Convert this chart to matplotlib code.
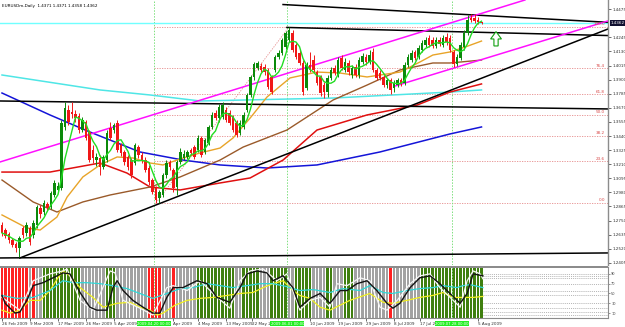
import numpy as np
import pandas as pd
import matplotlib
matplotlib.use("Agg")
import matplotlib.pyplot as plt
from matplotlib.patches import Polygon, Rectangle

# EURUSD daily bars, 26 Feb 2009 .. 6 Aug 2009 (bar index = position on time axis)
opens = [1.2714, 1.2673, 1.2641, 1.2592, 1.2559, 1.2526, 1.2690, 1.2649, 1.2690, 1.2632,
         1.2714, 1.2853, 1.2820, 1.2886, 1.2861, 1.2959, 1.3000, 1.3016, 1.3514, 1.3652,
         1.3636, 1.3620, 1.3603, 1.3489, 1.3554, 1.3473, 1.3326, 1.3244, 1.3261, 1.3187,
         1.3244, 1.3506, 1.3489, 1.3546, 1.3367, 1.3310, 1.3269, 1.3244, 1.3220, 1.3350,
         1.3285, 1.3244, 1.3179, 1.3081, 1.3016, 1.2934, 1.2959, 1.3122, 1.3228, 1.3163,
         1.3024, 1.3228, 1.3261, 1.3269, 1.3326, 1.3350, 1.3326, 1.3424, 1.3310, 1.3383,
         1.3514, 1.3628, 1.3587, 1.3595, 1.3652, 1.3628, 1.3595, 1.3546, 1.3465, 1.3514,
         1.3652, 1.3775, 1.3922, 1.3995, 1.4011, 1.4003, 1.3979, 1.3922, 1.3979, 1.4085,
         1.4118, 1.4166, 1.4224, 1.4281, 1.4183, 1.4118, 1.4036, 1.3832, 1.4020, 1.4060,
         1.3962, 1.3922, 1.3856, 1.3799, 1.3914, 1.3995, 1.3938, 1.4077, 1.3979, 1.4036,
         1.3938, 1.4003, 1.3938, 1.4044, 1.4085, 1.4044, 1.4126, 1.3979, 1.3954, 1.3922,
         1.3856, 1.3897, 1.3832, 1.3856, 1.3897, 1.3873, 1.4020, 1.4060, 1.4126, 1.4085,
         1.4142, 1.4183, 1.4240, 1.4224, 1.4175, 1.4224, 1.4183, 1.4248, 1.4240, 1.4126,
         1.4028, 1.4077, 1.4166, 1.4281, 1.4403, 1.4403, 1.4387, 1.4371]
highs = [1.2738, 1.2690, 1.2657, 1.2608, 1.2575, 1.2624, 1.2706, 1.2738, 1.2706, 1.2755,
         1.2877, 1.2877, 1.2918, 1.2902, 1.2991, 1.3081, 1.3065, 1.3571, 1.3718, 1.3693,
         1.3718, 1.3652, 1.3628, 1.3595, 1.3571, 1.3489, 1.3367, 1.3302, 1.3285, 1.3285,
         1.3489, 1.3554, 1.3546, 1.3571, 1.3383, 1.3326, 1.3285, 1.3261, 1.3383, 1.3367,
         1.3310, 1.3269, 1.3204, 1.3098, 1.3032, 1.3000, 1.3138, 1.3244, 1.3244, 1.3179,
         1.3244, 1.3342, 1.3326, 1.3326, 1.3342, 1.3367, 1.3448, 1.3440, 1.3424, 1.3530,
         1.3636, 1.3652, 1.3701, 1.3718, 1.3677, 1.3652, 1.3612, 1.3571, 1.3571, 1.3636,
         1.3791, 1.3938, 1.4044, 1.4052, 1.4036, 1.4028, 1.3995, 1.3938, 1.4101, 1.4142,
         1.4240, 1.4297, 1.4330, 1.4305, 1.4199, 1.4142, 1.4060, 1.4044, 1.4126, 1.4101,
         1.3979, 1.3938, 1.3881, 1.3938, 1.4003, 1.4020, 1.4085, 1.4101, 1.4077, 1.4060,
         1.4020, 1.4028, 1.4085, 1.4118, 1.4109, 1.4142, 1.4158, 1.3995, 1.3979, 1.3938,
         1.3914, 1.3914, 1.3897, 1.3914, 1.3914, 1.4044, 1.4109, 1.4142, 1.4142, 1.4183,
         1.4224, 1.4248, 1.4264, 1.4248, 1.4248, 1.4248, 1.4264, 1.4281, 1.4264, 1.4142,
         1.4109, 1.4207, 1.4305, 1.4428, 1.4436, 1.4436, 1.4411, 1.4371]
lows = [1.2624, 1.2608, 1.2567, 1.2534, 1.2494, 1.2453, 1.2608, 1.2624, 1.2551, 1.2608,
        1.2690, 1.2771, 1.2796, 1.2828, 1.2845, 1.2942, 1.2983, 1.3000, 1.3489, 1.3530,
        1.3587, 1.3554, 1.3465, 1.3473, 1.3408, 1.3228, 1.3220, 1.3195, 1.3122, 1.3171,
        1.3228, 1.3408, 1.3465, 1.3310, 1.3277, 1.3204, 1.3163, 1.3098, 1.3204, 1.3261,
        1.3220, 1.3146, 1.3040, 1.2967, 1.2894, 1.2894, 1.2942, 1.3098, 1.3163, 1.2983,
        1.2959, 1.3212, 1.3244, 1.3253, 1.3285, 1.3253, 1.3310, 1.3269, 1.3293, 1.3367,
        1.3497, 1.3571, 1.3554, 1.3579, 1.3554, 1.3530, 1.3473, 1.3432, 1.3448, 1.3497,
        1.3636, 1.3758, 1.3897, 1.3979, 1.3962, 1.3938, 1.3824, 1.3783, 1.3962, 1.4069,
        1.4101, 1.4150, 1.4207, 1.4126, 1.4069, 1.4020, 1.3775, 1.3816, 1.3962, 1.3962,
        1.3856, 1.3767, 1.3750, 1.3758, 1.3897, 1.3938, 1.3922, 1.3979, 1.3962, 1.3938,
        1.3914, 1.3922, 1.3914, 1.4028, 1.4020, 1.4028, 1.3962, 1.3897, 1.3897, 1.3840,
        1.3832, 1.3783, 1.3799, 1.3840, 1.3848, 1.3856, 1.4003, 1.4044, 1.4060, 1.4069,
        1.4126, 1.4166, 1.4166, 1.4158, 1.4158, 1.4175, 1.4166, 1.4183, 1.4126, 1.4003,
        1.4011, 1.4060, 1.4142, 1.4264, 1.4370, 1.4362, 1.4354, 1.4358]
closes = [1.2649, 1.2624, 1.2592, 1.2551, 1.2526, 1.2608, 1.2632, 1.2714, 1.2575, 1.2730,
          1.2861, 1.2804, 1.2894, 1.2853, 1.2975, 1.3057, 1.3032, 1.3546, 1.3669, 1.3554,
          1.3620, 1.3587, 1.3489, 1.3571, 1.3424, 1.3244, 1.3261, 1.3269, 1.3187, 1.3269,
          1.3465, 1.3424, 1.3530, 1.3326, 1.3302, 1.3228, 1.3187, 1.3122, 1.3367, 1.3285,
          1.3244, 1.3163, 1.3065, 1.2983, 1.2918, 1.2983, 1.3122, 1.3220, 1.3187, 1.3016,
          1.3228, 1.3310, 1.3293, 1.3310, 1.3302, 1.3269, 1.3424, 1.3285, 1.3408, 1.3514,
          1.3612, 1.3587, 1.3677, 1.3693, 1.3571, 1.3546, 1.3489, 1.3448, 1.3546, 1.3612,
          1.3775, 1.3922, 1.4028, 1.4036, 1.3979, 1.3962, 1.3840, 1.3799, 1.4085, 1.4118,
          1.4224, 1.4281, 1.4305, 1.4142, 1.4085, 1.4036, 1.3799, 1.4020, 1.3979, 1.3979,
          1.3873, 1.3791, 1.3799, 1.3914, 1.3979, 1.3954, 1.4060, 1.3995, 1.4044, 1.3962,
          1.3995, 1.3938, 1.4060, 1.4093, 1.4044, 1.4101, 1.3979, 1.3914, 1.3914, 1.3856,
          1.3897, 1.3816, 1.3873, 1.3897, 1.3865, 1.4020, 1.4085, 1.4118, 1.4077, 1.4158,
          1.4199, 1.4224, 1.4183, 1.4175, 1.4224, 1.4191, 1.4240, 1.4207, 1.4142, 1.4028,
          1.4085, 1.4183, 1.4281, 1.4387, 1.4387, 1.4379, 1.4370, 1.4362]

# slower moving averages (bar, price)
orange_x = [0, 7.1, 10.9, 15.7, 18.6, 23.1, 28, 32.9, 37.4, 42.3, 46, 50.9, 56.6, 62.3,
            66, 70.9, 75.7, 82.3, 90, 96.6, 104.3, 113.7, 119.4, 123.1, 128, 132.3, 137]
orange_y = [1.2796, 1.2690, 1.2673, 1.2779, 1.2942, 1.3106, 1.3204, 1.3269, 1.3261, 1.3220,
            1.3204, 1.3253, 1.3302, 1.3342, 1.3424, 1.3587, 1.3758, 1.3914, 1.3962, 1.3954,
            1.3922, 1.3962, 1.4044, 1.4101, 1.4126, 1.4166, 1.4215]
brown_x = [0, 8.9, 15.7, 23.1, 30.9, 42.3, 50.9, 62.3, 68.9, 81.4, 94.6, 104.3, 113.7, 123.1, 128, 137]
brown_y = [1.3081, 1.2902, 1.2820, 1.2902, 1.2959, 1.3024, 1.3106, 1.3244, 1.3350, 1.3489,
           1.3734, 1.3856, 1.3979, 1.4036, 1.4036, 1.4060]
red_x = [0, 13.7, 28, 35.7, 42.3, 50.9, 62.3, 70.9, 80.3, 90, 104.3, 118.6, 128, 137]
red_y = [1.3146, 1.3146, 1.3220, 1.3138, 1.3024, 1.3000, 1.3057, 1.3098, 1.3244, 1.3489,
         1.3612, 1.3693, 1.3799, 1.3865]
blue_x = [0, 13.7, 25.1, 39.4, 51.7, 62.3, 75.7, 90, 108, 128, 137]
blue_y = [1.3791, 1.3612, 1.3473, 1.3310, 1.3244, 1.3204, 1.3179, 1.3204, 1.3310, 1.3457, 1.3514]
cyan_x = [0, 28, 42.3, 56.6, 94.6, 128, 137]
cyan_y = [1.3938, 1.3816, 1.3775, 1.3726, 1.3750, 1.3799, 1.3816]

# trend lines (bar, price) pairs
black_lines = [((80.3, 1.4513), (173.1, 1.4368)),
               ((81.4, 1.4326), (173.1, 1.4260)),
               ((5.1, 1.2445), (173.1, 1.4313)),
               ((-0.6, 1.3726), (173.1, 1.3661)),
               ((-0.6, 1.2445), (173.1, 1.2486))]
magenta_lines = [((-0.6, 1.3228), (149.4, 1.4550)),
                 ((112.3, 1.3848), (173.1, 1.4379))]

fib_low, fib_high = 1.2894, 1.4330
fib_start, fib_end = 44, 82
fib_levels = [0.0, 23.6, 38.2, 50.0, 61.8, 76.4, 100.0]
vlines_at = [43.5, 81.5, 128.5]
vline_labels = ["2009.04.20 00:00", "2009.06.01 00:00", "2009.07.28 00:00"]
bid = 1.4362

price_ticks = [1.2405, 1.2520, 1.2635, 1.2750, 1.2865, 1.2980, 1.3095, 1.3210, 1.3325, 1.3440,
               1.3555, 1.3670, 1.3785, 1.3900, 1.4015, 1.4130, 1.4245, 1.4475]

# labels hidden under the highlighted object dates are left out
date_ticks = [0, 8, 16, 24, 32, 49, 56, 64, 71.5, 88, 96, 104, 112, 119.5, 136]
date_labels = ["26 Feb 2009", "9 Mar 2009", "17 Mar 2009", "26 Mar 2009", "5 Apr 2009",
               "Apr 2009", "4 May 2009", "13 May 2009", "22 May 2", "10 Jun 2009",
               "19 Jun 2009", "29 Jun 2009", "8 Jul 2009", "17 Jul 2", "5 Aug 2009"]

# lower indicator window
state = ("RRRRRRRRKRKKGGGGGGGGGGGKKKKKKKGGGKKKKKKKKKRRRRKKKRKKKKKK"
         "GGGGGGGGGGGKKGGGGGKKKGGGGGKKGGGGGKKKKGGKKKGGGKKKKKKKKKKRKKKKKKKK"
         "GGGGGGGGGGGGGGGGGG")
blk_x = [0, 0.9, 3.7, 5.1, 7.1, 8.9, 11.7, 14.6, 17.4, 19.4, 22.3, 25.1, 27.1, 30, 31.7, 32.9,
         34.6, 37.4, 40.3, 43.1, 45.1, 47.1, 48.9, 51.7, 55.7, 58.6, 61.4, 65.1, 68, 70, 72.9,
         75.7, 77.4, 80.3, 83.1, 85.1, 88, 90.9, 93.7, 96.6, 98.6, 101.4, 104.3, 107.1, 110,
         111.7, 113.7, 116.6, 119.4, 122.3, 125.1, 128, 130.9, 132.9, 134.6, 137.4]
blk_y = [46, 30, 10, 12, 36, 66, 72, 82, 92, 90, 52, 22, 16, 16, 62, 76,
         56, 36, 22, 10, 10, 42, 62, 62, 76, 70, 42, 32, 62, 90, 96,
         92, 76, 86, 62, 22, 40, 50, 30, 56, 56, 70, 76, 56, 30,
         20, 30, 62, 82, 86, 70, 50, 30, 50, 90, 86]
wht_x = [0, 5.1, 8.9, 13.7, 17.4, 18.6, 22.3, 26, 30.9, 32.3, 34.6, 39.4, 43.1, 47.1, 48.9,
         52.9, 56.6, 60.3, 65.1, 68, 70.9, 74.6, 78.6, 81.4, 85.1, 88, 90.9, 93.7, 95.7, 98.6,
         102.3, 105.1, 108, 110, 112.9, 116.6, 119.4, 122.3, 125.1, 128.9, 130.9, 132.9, 134.6,
         136.6, 137.4]
wht_y = [42, 16, 76, 90, 96, 100, 36, 16, 96, 92, 36, 20, 6, 62, 66,
         56, 76, 50, 20, 76, 96, 100, 76, 90, 16, 36, 42, 22, 70, 66,
         82, 76, 22, 16, 36, 70, 86, 90, 62, 36, 22, 76, 96,
         90, 80]
cyn_x = [0, 4.3, 8.9, 13.7, 17.4, 20.3, 24.3, 28, 31.7, 35.7, 39.4, 43.1, 47.1, 50.9, 54.6,
         58.6, 62.3, 66, 70, 73.7, 77.4, 81.4, 85.1, 88.9, 93.7, 97.4, 102.3, 105.1, 108.9,
         111.7, 115.7, 119.4, 123.1, 126, 130, 131.7, 133.7, 137.4]
cyn_y = [46, 40, 42, 56, 76, 72, 72, 70, 66, 60, 50, 40, 50, 60, 62,
         70, 66, 62, 66, 70, 70, 64, 56, 58, 52, 60, 56, 66, 52,
         50, 56, 60, 62, 66, 62, 66, 68, 62]
yel_x = [0, 2.3, 5.1, 8, 10.9, 13.7, 16, 17.4, 19.4, 22.3, 26, 28.9, 32.9, 36.6, 39.4, 42.3,
         44.3, 46, 49.4, 52.9, 56.6, 60.3, 64.3, 68, 71.7, 74.6, 77.4, 80.3, 83.1, 85.1, 88,
         90.9, 93.7, 99.4, 105.1, 108.9, 111.7, 115.7, 119.4, 123.1, 126, 128.9, 131.7, 134.6,
         137.4]
yel_y = [16, 10, 16, 36, 36, 56, 82, 96, 86, 62, 42, 22, 30, 32, 22, 16,
         6, 10, 26, 36, 40, 42, 46, 50, 52, 62, 70, 76, 56, 46, 40,
         22, 16, 36, 50, 32, 30, 36, 42, 46, 52, 42, 42, 42,
         44]
ind_levels = [90, 86, 82, 70, 56, 46, 30, 20, 12, 6]
ind_labels = [90, 70, 50, 30, 10]

BULL, BEAR = "#0b8a0b", "#f01818"
X0, X1 = -0.57, 173.14

fig = plt.figure(figsize=(6.25, 3.27), dpi=100)
ax = fig.add_axes([0, 1 - 265 / 327, 608 / 625, 265 / 327])
ax2 = fig.add_axes([0, 1 - 318 / 327, 608 / 625, 51 / 327])
fig.add_artist(Rectangle((0, 1 - 268 / 327), 608 / 625, 2.5 / 327,
                         transform=fig.transFigure, color="#8c8c8c", lw=0))

o = np.array(opens); h = np.array(highs); l = np.array(lows); c = np.array(closes)
x = np.arange(len(c))
up = c >= o
cols = np.where(up, BULL, BEAR)

# fibonacci retracement
for lev in fib_levels:
    p = fib_low + (fib_high - fib_low) * lev / 100
    ax.hlines(p, fib_start - 0.5, X1, colors="#e58a8a", lw=0.6, linestyles=(0, (1.5, 1.5)), zorder=1)
    ax.text(172.3, p + 0.0004, "%.1f" % lev, fontsize=3, color="#d84848", ha="right", va="bottom")
ax.plot([fib_start, fib_end], [fib_low, fib_high], color="#e58a8a", lw=0.6, ls=(0, (1.5, 1.5)), zorder=1)

for v in vlines_at:
    ax.axvline(v, color="#7fe07f", lw=0.7, ls=(0, (1.5, 1.5)), zorder=1)
    ax2.axvline(v, color="#7fe07f", lw=0.7, ls=(0, (1.5, 1.5)), zorder=5)

ax.axhline(bid, color="#70ffff", lw=1.0, zorder=1)

# moving averages
ax.plot(cyan_x, cyan_y, color="#4fe6e6", lw=1.1, zorder=2)
ax.plot(blue_x, blue_y, color="#1414d8", lw=1.1, zorder=2)
ax.plot(red_x, red_y, color="#e01010", lw=1.1, zorder=2)
ax.plot(brown_x, brown_y, color="#9a5a2a", lw=1.0, zorder=2)
ax.plot(orange_x, orange_y, color="#e8a428", lw=1.0, zorder=2)

for (x1, y1), (x2, y2) in black_lines:
    ax.plot([x1, x2], [y1, y2], color="black", lw=1.1, zorder=2)
for (x1, y1), (x2, y2) in magenta_lines:
    ax.plot([x1, x2], [y1, y2], color="#ff10ff", lw=1.1, zorder=2)

ax.vlines(x, l, h, colors=cols, lw=0.7, zorder=3)
body = np.maximum(np.abs(c - o), 0.00025)
ax.bar(x, body, bottom=np.minimum(o, c), width=0.72, color=cols, lw=0, zorder=4)

fast = pd.Series(c).rolling(5, min_periods=1).mean()
ax.plot(x, fast, color="#22dd22", lw=1.0, zorder=5)

# hollow up arrow
ax.add_patch(Polygon([(141.15, 1.4292), (142.7, 1.4232), (141.75, 1.4232), (141.75, 1.4175),
                      (140.55, 1.4175), (140.55, 1.4232), (139.6, 1.4232)],
                     closed=True, facecolor="white", edgecolor="#10a010", lw=0.8, zorder=6))

ax.set_xlim(X0, X1)
ax.set_ylim(1.4550 - 0.000816 * 265, 1.4550)
ax.yaxis.tick_right()
ax.set_yticks(price_ticks)
ax.set_yticklabels(["%.4f" % t for t in price_ticks])
ax.tick_params(axis="y", labelsize=3, length=2, width=0.5, pad=1, colors="#303030")
ax.set_xticks([])
for s in ["top", "bottom", "left"]:
    ax.spines[s].set_visible(False)
ax.spines["right"].set_color("#8c8c8c")
ax.spines["right"].set_linewidth(1.0)
ax.annotate("%.4f" % bid, xy=(1.0, bid), xycoords=("axes fraction", "data"),
            xytext=(2, 0), textcoords="offset points", fontsize=3, color="white",
            ha="left", va="center", annotation_clip=False,
            bbox=dict(boxstyle="square,pad=0.15", fc="#101030", ec="none"))
ax.text(0.004, 0.985, "EURUSDm,Daily  1.4371 1.4371 1.4358 1.4362", transform=ax.transAxes,
        fontsize=3, va="top", ha="left", color="black")

# indicator window
scol = {"R": "#ff2020", "G": "#3f7f0f", "K": "#a2a2a2"}
ax2.bar(np.arange(len(state)), 104, bottom=0, width=0.8,
        color=[scol[s] for s in state], lw=0, zorder=1)
ax2.hlines(ind_levels, len(state) - 0.5, X1, colors="#9a9a9a", lw=0.5,
           linestyles=(0, (1.5, 1.5)), zorder=1)
ax2.plot(yel_x, yel_y, color="#f0f020", lw=0.9, zorder=3)
ax2.plot(cyn_x, cyn_y, color="#30d8d8", lw=0.9, zorder=3)
ax2.plot(wht_x, wht_y, color="#f4f4f4", lw=0.9, zorder=3)
ax2.plot(blk_x, blk_y, color="#141414", lw=1.0, zorder=4)
ax2.set_xlim(X0, X1)
ax2.set_ylim(0, 104)
ax2.yaxis.tick_right()
ax2.set_yticks(ind_labels)
ax2.set_yticklabels([str(v) for v in ind_labels])
ax2.tick_params(axis="y", labelsize=2.5, length=1.5, width=0.4, pad=0.8, colors="#404040")
ax2.set_xticks(date_ticks)
ax2.set_xticklabels(date_labels)
ax2.tick_params(axis="x", labelsize=3, length=2, width=0.5, pad=1, colors="#303030")
for lab in ax2.get_xticklabels():
    lab.set_horizontalalignment("left")
for s in ["top", "left"]:
    ax2.spines[s].set_visible(False)
for s in ["right", "bottom"]:
    ax2.spines[s].set_color("#8c8c8c")
for v, t in zip(vlines_at, vline_labels):
    ax2.annotate(t, xy=(v, 0), xycoords=("data", "axes fraction"), xytext=(0, -2.6),
                 textcoords="offset points", fontsize=2.7, color="white", ha="center", va="top",
                 annotation_clip=False,
                 bbox=dict(boxstyle="square,pad=0.1", fc="#22ee22", ec="none"))

fig.savefig("out.png", dpi=100)
